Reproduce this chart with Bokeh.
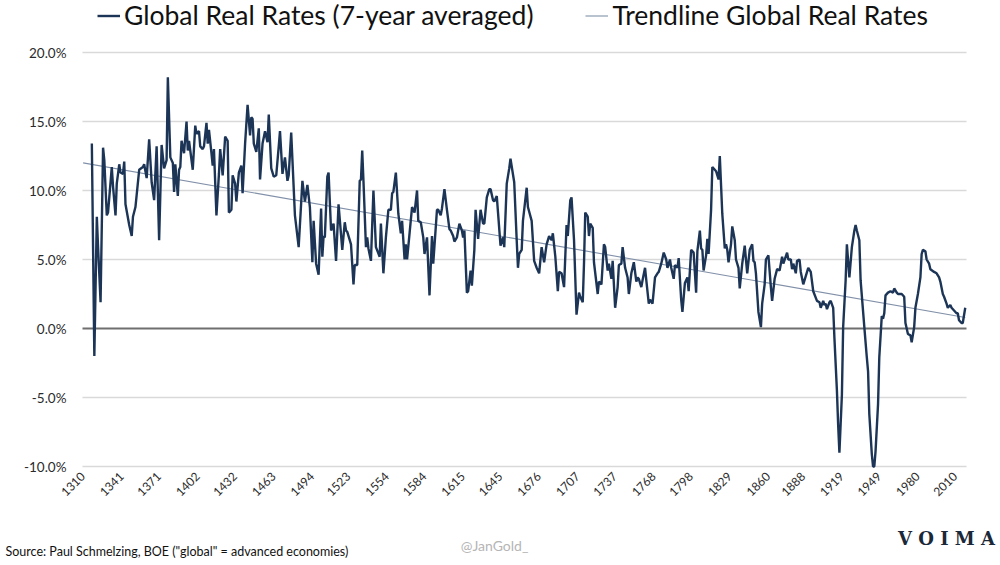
from bokeh.plotting import figure
from bokeh.models import (Range1d, FixedTicker, PrintfTickFormatter, Legend, Grid,
                          LegendItem, Label, BasicTickFormatter)
from bokeh.embed import file_html
from bokeh.resources import INLINE

# ---- data ----
years = [1317, 1319, 1321, 1322, 1324, 1326, 1327, 1329, 1330, 1333, 1334, 1336, 1337, 1339, 1340,
         1342, 1343, 1344, 1347, 1349, 1350, 1352, 1355, 1358, 1359, 1361, 1363, 1365, 1367, 1369,
         1371, 1373, 1375, 1377, 1378, 1380, 1382, 1383, 1384, 1386, 1387, 1388, 1389, 1391, 1393,
         1394, 1395, 1396, 1398, 1400, 1401, 1403, 1404, 1406, 1407, 1409, 1410, 1411, 1413, 1414,
         1415, 1417, 1419, 1420, 1422, 1424, 1426, 1427, 1429, 1430, 1432, 1433, 1435, 1437, 1438,
         1440, 1442, 1444, 1445, 1446, 1447, 1449, 1451, 1452, 1454, 1456, 1458, 1459, 1461, 1463,
         1465, 1467, 1468, 1470, 1472, 1474, 1475, 1477, 1478, 1480, 1483, 1486, 1488, 1490, 1492,
         1494, 1495, 1497, 1499, 1501, 1502, 1503, 1504, 1506, 1507, 1509, 1511, 1513, 1515, 1518,
         1520, 1521, 1522, 1524, 1525, 1527, 1528, 1530, 1532, 1533, 1534, 1535, 1537, 1538, 1539,
         1541, 1543, 1545, 1548, 1549, 1551, 1553, 1555, 1557, 1558, 1559, 1561, 1563, 1565, 1566,
         1568, 1569, 1570, 1572, 1574, 1576, 1578, 1579, 1581, 1583, 1584, 1586, 1588, 1590, 1591,
         1594, 1595, 1597, 1598, 1600, 1602, 1604, 1605, 1607, 1608, 1610, 1611, 1612, 1614, 1615,
         1616, 1618, 1619, 1621, 1622, 1624, 1625, 1627, 1629, 1631, 1632, 1634, 1636, 1637, 1639,
         1640, 1642, 1643, 1645, 1647, 1648, 1650, 1652, 1653, 1656, 1658, 1659, 1660, 1662, 1663,
         1666, 1667, 1670, 1672, 1674, 1676, 1678, 1680, 1682, 1684, 1686, 1687, 1689, 1691, 1692,
         1694, 1696, 1698, 1699, 1701, 1702, 1704, 1706, 1708, 1709, 1711, 1712, 1713, 1715, 1716,
         1717, 1719, 1720, 1723, 1724, 1726, 1728, 1729, 1731, 1732, 1734, 1735, 1737, 1739, 1740,
         1742, 1743, 1745, 1747, 1748, 1750, 1752, 1754, 1755, 1756, 1758, 1759, 1761, 1762, 1764,
         1765, 1767, 1769, 1771, 1772, 1774, 1776, 1778, 1779, 1781, 1782, 1784, 1785, 1787, 1788,
         1790, 1791, 1793, 1795, 1796, 1798, 1800, 1802, 1803, 1805, 1806, 1807, 1808, 1810, 1811,
         1812, 1814, 1815, 1817, 1818, 1820, 1821, 1823, 1825, 1826, 1827, 1828, 1830, 1831, 1833,
         1834, 1836, 1837, 1839, 1841, 1843, 1845, 1847, 1848, 1849, 1850, 1852, 1854, 1855, 1857,
         1858, 1860, 1862, 1863, 1865, 1867, 1869, 1871, 1872, 1875, 1876, 1878, 1879, 1880, 1882,
         1883, 1885, 1886, 1888, 1890, 1892, 1894, 1896, 1899, 1901, 1902, 1904, 1905, 1906, 1907,
         1909, 1910, 1912, 1913, 1915, 1916, 1917, 1919, 1920, 1922, 1923, 1925, 1927, 1929, 1930,
         1931, 1933, 1934, 1937, 1939, 1940, 1941, 1943, 1944, 1945, 1946, 1948, 1949, 1951, 1952,
         1953, 1954, 1956, 1958, 1960, 1961, 1963, 1964, 1967, 1969, 1970, 1972, 1974, 1975, 1977,
         1978, 1980, 1982, 1983, 1984, 1986, 1987, 1989, 1990, 1993, 1995, 1997, 1998, 2000, 2001,
         2003, 2004, 2006, 2007, 2009, 2011, 2012, 2013, 2015, 2016, 2018]

rates = [13.4, -2.0, 8.1, 5.9, 1.9, 13.1, 12.2, 8.2, 8.4, 11.7, 10.3, 8.2, 10.5, 11.9, 11.3,
         11.2, 12.1, 9.0, 7.5, 6.7, 8.1, 8.8, 11.5, 11.7, 11.9, 10.9, 13.7, 10.6, 9.3, 13.2,
         6.4, 13.3, 11.6, 12.2, 18.2, 12.4, 12.0, 9.9, 11.9, 9.6, 11.5, 11.7, 13.6, 12.7, 15.0,
         12.9, 13.6, 12.9, 11.5, 14.7, 14.1, 14.3, 13.2, 13.0, 13.2, 14.9, 13.4, 14.4, 12.7, 11.8,
         13.0, 8.2, 11.2, 13.0, 11.1, 13.9, 13.6, 8.4, 8.6, 11.1, 10.5, 9.2, 11.3, 11.8, 9.8,
         13.4, 16.2, 14.0, 15.3, 15.2, 13.4, 12.8, 14.5, 10.8, 13.4, 14.3, 13.5, 15.5, 11.6, 11.0,
         11.1, 13.2, 14.3, 11.2, 12.4, 10.7, 11.1, 14.2, 12.2, 8.2, 5.9, 10.7, 9.2, 10.4, 8.8,
         4.8, 7.8, 4.7, 3.9, 8.7, 5.2, 6.7, 6.6, 11.0, 11.3, 7.1, 7.6, 4.9, 9.0, 5.7,
         7.7, 7.1, 7.0, 6.4, 6.1, 3.2, 4.6, 4.6, 10.7, 10.8, 12.9, 10.7, 5.9, 6.6, 5.8,
         4.9, 10.0, 5.9, 5.2, 7.6, 4.0, 6.6, 8.6, 8.6, 9.8, 9.9, 11.3, 8.3, 6.9, 7.8,
         5.0, 6.1, 5.0, 6.9, 8.8, 8.4, 10.0, 7.8, 7.7, 6.6, 5.4, 6.6, 2.4, 6.7, 4.7,
         8.6, 8.6, 8.2, 8.7, 10.1, 8.6, 7.2, 7.1, 6.7, 6.3, 6.6, 7.1, 7.6, 7.1, 6.6,
         7.1, 2.6, 2.7, 4.2, 3.1, 5.7, 8.6, 6.5, 8.6, 7.6, 7.6, 9.5, 10.1, 10.1, 9.3,
         9.2, 9.6, 8.4, 6.0, 6.6, 5.9, 10.5, 11.6, 12.3, 10.6, 6.4, 4.4, 5.4, 5.7, 7.8,
         10.2, 8.8, 7.8, 4.9, 4.4, 4.0, 5.9, 4.8, 6.1, 6.7, 6.4, 6.9, 5.2, 2.7, 4.1,
         4.0, 3.0, 7.5, 6.7, 9.3, 9.5, 6.4, 1.0, 2.6, 2.3, 1.9, 4.7, 8.4, 8.1, 6.7,
         7.6, 7.3, 4.8, 2.5, 3.4, 3.2, 6.1, 5.9, 4.2, 4.7, 3.6, 4.9, 1.5, 3.0, 4.6,
         4.7, 5.9, 4.4, 3.7, 2.5, 4.0, 4.8, 3.4, 3.7, 3.6, 3.0, 3.5, 4.4, 3.5, 1.8,
         2.1, 1.8, 3.7, 4.0, 4.1, 4.7, 5.5, 5.0, 4.4, 5.0, 4.4, 3.6, 4.6, 4.4, 5.1,
         2.1, 1.2, 3.3, 3.7, 2.7, 5.7, 5.5, 2.6, 5.6, 7.1, 5.8, 5.7, 4.2, 5.3, 6.5,
         5.4, 8.6, 11.7, 11.5, 11.4, 10.8, 12.5, 8.3, 5.8, 6.1, 5.7, 4.8, 6.1, 7.4, 6.4,
         5.0, 4.4, 2.9, 4.7, 6.0, 4.0, 5.7, 6.1, 4.9, 4.8, 4.0, 1.2, 0.1, 1.8, 3.2,
         5.0, 5.3, 3.0, 2.0, 3.6, 4.3, 4.2, 5.2, 4.7, 5.5, 5.0, 5.0, 4.3, 4.7, 4.0,
         4.9, 5.0, 4.1, 3.2, 3.8, 4.4, 4.1, 2.7, 2.0, 1.9, 1.5, 2.0, 1.7, 1.8, 1.4,
         1.9, 2.0, 1.5, -0.7, -4.5, -7.0, -9.0, -4.8, 0.1, 3.5, 6.1, 3.7, 5.9, 7.1, 7.5,
         7.1, 6.4, 3.5, 0.1, -2.1, -3.1, -6.2, -9.1, -10.0, -10.0, -8.9, -5.5, -2.1, 0.9, 0.7,
         1.1, 2.4, 2.6, 2.7, 2.6, 2.9, 2.6, 2.5, 2.5, 2.3, 0.4, -0.4, -0.5, -1.0, 0.1,
         1.5, 2.5, 3.7, 5.4, 5.7, 5.6, 5.0, 4.7, 4.3, 4.1, 4.0, 3.7, 3.4, 2.5, 2.3,
         1.8, 1.5, 1.7, 1.5, 1.3, 1.1, 1.1, 0.6, 0.4, 0.4, 1.5]

trend_years = [1310, 2018]
trend_rates = [12.0, 0.8]

tick_years = [1310, 1341, 1371, 1402, 1432, 1463, 1494, 1523, 1554, 1584, 1615, 1645,
              1676, 1707, 1737, 1768, 1798, 1829, 1860, 1888, 1919, 1949, 1980, 2010]
y_ticks = [-10, -5, 5, 10, 15, 20]
zero_tick = [0]

NAVY = "#1c3557"
TREND = "#8090a8"
FONT = "Lato"

# ---- layout geometry (pixels inside the canvas) ----
W, H = 1000, 565
X_LO, X_HI = 1309.5, 2019.0      # chart x extent (years)
Y_LO, Y_HI = -10.0, 20.0         # chart y extent (%)
CL, CR, CT, CB = 82, 966, 52, 466  # chart box in canvas pixels

xs = (X_HI - X_LO) / (CR - CL)
ys = (Y_HI - Y_LO) / (CB - CT)
x_range = Range1d(X_LO - CL * xs, X_HI + (W - CR) * xs)
y_range = Range1d(Y_LO - (H - CB) * ys, Y_HI + CT * ys)

p = figure(width=W, height=H, output_backend="svg", toolbar_location=None,
           x_range=x_range, y_range=y_range,
           min_border=0, min_border_left=0, min_border_right=0,
           min_border_top=0, min_border_bottom=0)
p.outline_line_color = None
p.background_fill_color = "white"

# axes drawn at fixed positions inside the canvas
p.yaxis.fixed_location = X_LO
p.yaxis.ticker = FixedTicker(ticks=y_ticks + zero_tick)
p.yaxis.formatter = PrintfTickFormatter(format="%.1f%%")
p.yaxis.axis_line_color = None
p.yaxis.major_tick_line_color = None
p.yaxis.minor_tick_line_color = None
p.yaxis.major_tick_out = 0
p.yaxis.major_tick_in = 0
p.yaxis.major_label_standoff = 16
p.yaxis.major_label_text_font = FONT
p.yaxis.major_label_text_font_size = "13.5px"
p.yaxis.major_label_text_color = "#2b2b2b"

p.xaxis.fixed_location = Y_LO
p.xaxis.ticker = FixedTicker(ticks=tick_years)
p.xaxis.formatter = BasicTickFormatter(use_scientific=False)
p.xaxis.axis_line_color = None
p.xaxis.major_tick_line_color = None
p.xaxis.minor_tick_line_color = None
p.xaxis.major_tick_out = 0
p.xaxis.major_tick_in = 0
p.xaxis.major_label_orientation = 0.785398
p.xaxis.major_label_standoff = 8
p.xaxis.major_label_text_font = FONT
p.xaxis.major_label_text_font_size = "12px"
p.xaxis.major_label_text_color = "#2b2b2b"

p.xgrid.grid_line_color = None
p.ygrid.grid_line_color = None

def hgrid(ticks, color, width):
    g = Grid(dimension=1, ticker=FixedTicker(ticks=ticks), grid_line_color=color,
             grid_line_width=width)
    try:
        g.cross_bounds = (X_LO, X_HI)
        p.add_layout(g)
    except Exception:
        p.segment(x0=[X_LO] * len(ticks), x1=[X_HI] * len(ticks), y0=ticks, y1=ticks,
                  line_color=color, line_width=width)

hgrid(y_ticks, "#d9d9d9", 1.3)
hgrid(zero_tick, "#6f6f6f", 2)

r_trend = p.line(trend_years, trend_rates, line_color=TREND, line_width=1.1)
r_main = p.line(years, rates, line_color=NAVY, line_width=2.4)

LEG_H = 31
legend = Legend(items=[LegendItem(label="Global Real Rates (7-year averaged)", renderers=[r_main]),
                       LegendItem(label="Trendline Global Real Rates", renderers=[r_trend])],
                orientation="horizontal", location=(97, H - LEG_H),
                label_text_font=FONT, label_text_font_size="26.5px", label_text_color="#111111",
                glyph_width=23, glyph_height=LEG_H, label_height=LEG_H, label_standoff=4,
                spacing=52, padding=0, margin=0, border_line_color=None,
                background_fill_alpha=0)
p.add_layout(legend, "center")

# ---- footer texts ----
p.add_layout(Label(x=5, y=14, x_units="screen", y_units="screen",
                   text='Source: Paul Schmelzing, BOE ("global" = advanced economies)',
                   text_font=FONT, text_font_size="12.5px", text_color="#111111",
                   text_baseline="middle", text_align="left"))
p.add_layout(Label(x=494, y=20, x_units="screen", y_units="screen", text="@JanGold_",
                   text_font=FONT, text_font_size="14px", text_color="#b5b5b5",
                   text_baseline="middle", text_align="center"))
p.add_layout(Label(x=946, y=27, x_units="screen", y_units="screen", text="V O I M A",
                   text_font="DejaVu Serif", text_font_style="bold", text_font_size="18px",
                   text_color="#1b2838", text_baseline="middle", text_align="center"))

open("out.html", "w").write(file_html(p, INLINE))
